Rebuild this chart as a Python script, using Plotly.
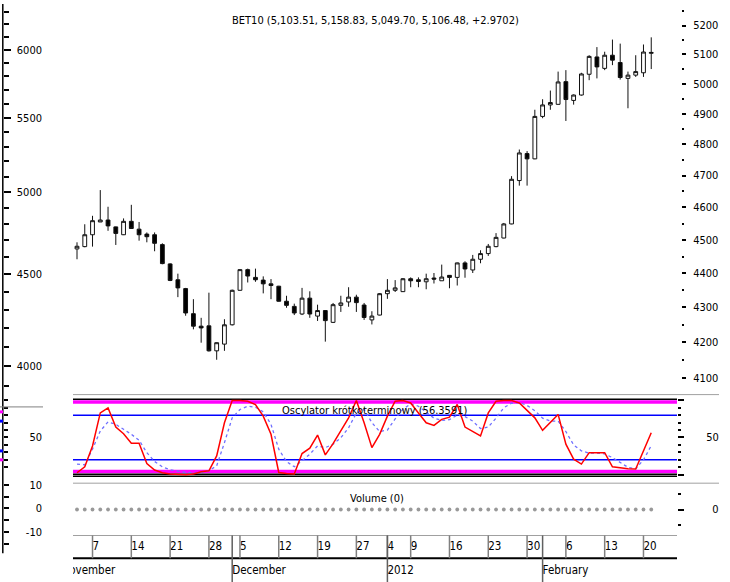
import plotly.graph_objects as go

# ---------------- data ----------------
dates = [
    "2011-11-03", "2011-11-04", "2011-11-07", "2011-11-08", "2011-11-09", "2011-11-10", "2011-11-11",
    "2011-11-14", "2011-11-15", "2011-11-16", "2011-11-17", "2011-11-18", "2011-11-21", "2011-11-22",
    "2011-11-23", "2011-11-24", "2011-11-25", "2011-11-28", "2011-11-29", "2011-11-30", "2011-12-02",
    "2011-12-05", "2011-12-06", "2011-12-07", "2011-12-08", "2011-12-09", "2011-12-12", "2011-12-13",
    "2011-12-14", "2011-12-15", "2011-12-16", "2011-12-19", "2011-12-20", "2011-12-21", "2011-12-22",
    "2011-12-23", "2011-12-27", "2011-12-28", "2011-12-29", "2011-12-30", "2012-01-04", "2012-01-05",
    "2012-01-06", "2012-01-09", "2012-01-10", "2012-01-11", "2012-01-12", "2012-01-13", "2012-01-16",
    "2012-01-17", "2012-01-18", "2012-01-19", "2012-01-20", "2012-01-23", "2012-01-24", "2012-01-25",
    "2012-01-26", "2012-01-27", "2012-01-30", "2012-01-31", "2012-02-01", "2012-02-02", "2012-02-03",
    "2012-02-06", "2012-02-07", "2012-02-08", "2012-02-09", "2012-02-10", "2012-02-13", "2012-02-14",
    "2012-02-15", "2012-02-16", "2012-02-17", "2012-02-20", "2012-02-21",
]

opens = [4473, 4480, 4516, 4555, 4561, 4540, 4516, 4557, 4533, 4518, 4516, 4486, 4428, 4381, 4355,
         4282, 4246, 4247, 4176, 4195, 4250, 4350, 4411, 4388, 4380, 4369, 4362, 4318, 4303, 4281,
         4327, 4275, 4291, 4257, 4306, 4316, 4330, 4307, 4264, 4278, 4340, 4350, 4346, 4384, 4381,
         4375, 4386, 4378, 4394, 4388, 4431, 4410, 4442, 4459, 4480, 4506, 4549, 4684, 4770, 4753,
         4891, 4929, 4931, 5007, 4944, 4962, 5032, 5091, 5052, 5097, 5072, 5018, 5029, 5037, 5103.51]
highs = [4493, 4548, 4574, 4654, 4602, 4541, 4566, 4608, 4555, 4523, 4523, 4490, 4430, 4399, 4357,
         4324, 4270, 4343, 4200, 4266, 4352, 4412, 4414, 4414, 4391, 4383, 4363, 4334, 4311, 4357,
         4347, 4308, 4292, 4313, 4334, 4359, 4337, 4313, 4289, 4342, 4383, 4380, 4386, 4388, 4388,
         4399, 4401, 4426, 4395, 4432, 4436, 4455, 4469, 4488, 4521, 4552, 4698, 4783, 4778, 4913,
         4948, 4977, 5041, 5046, 4964, 5037, 5097, 5125, 5109, 5151, 5137, 5041, 5097, 5134, 5158.83]
lows = [4442, 4478, 4480, 4555, 4528, 4485, 4515, 4534, 4498, 4493, 4466, 4427, 4377, 4330, 4276,
        4237, 4199, 4174, 4151, 4176, 4248, 4349, 4373, 4375, 4341, 4324, 4317, 4299, 4278, 4278,
        4270, 4261, 4202, 4255, 4287, 4302, 4287, 4264, 4251, 4277, 4325, 4345, 4345, 4359, 4359,
        4353, 4370, 4378, 4356, 4364, 4387, 4401, 4430, 4452, 4478, 4505, 4548, 4668, 4668, 4752,
        4885, 4913, 4930, 4876, 4930, 4960, 5012, 5018, 5046, 5063, 5014, 4918, 5023, 5023, 5049.70]
closes = [4481, 4516, 4559, 4561, 4543, 4520, 4557, 4535, 4516, 4510, 4490, 4429, 4379, 4357, 4284,
          4246, 4241, 4176, 4199, 4250, 4350, 4411, 4392, 4381, 4369, 4364, 4318, 4306, 4284, 4327,
          4281, 4291, 4262, 4308, 4313, 4330, 4314, 4271, 4275, 4340, 4350, 4357, 4384, 4378, 4376,
          4384, 4383, 4389, 4388, 4431, 4413, 4442, 4459, 4481, 4508, 4549, 4688, 4772, 4753, 4891,
          4929, 4937, 5006, 4947, 4962, 5033, 5093, 5057, 5097, 5080, 5021, 5029, 5041, 5108, 5106.48]

osc_fast = [2.7, 10.7, 38.7, 83, 89.7, 64, 55, 42.3, 42.3, 15, 6.3, 2.7, 1, 0, 0, 1, 4, 5.3, 25.3,
            69.7, 99.6, 99.6, 98.7, 94.3, 78.7, 54.3, 3, 1.7, 1, 28.4, 35.6, 53.3, 26.7, 41.7, 58.7,
            76.4, 99.6, 69.7, 36.4, 54.3, 78.7, 98.7, 99.6, 96.4, 83, 69.7, 66.3, 74.3, 77.3, 94.3,
            64, 57.7, 52, 83, 98.7, 99.6, 99.6, 96.4, 86.3, 76.4, 59.6, 69.7, 81, 41, 21, 14.3, 29.7,
            29.7, 29.7, 10.7, 9.3, 8, 7.6, 33, 56.36]
osc_slow = [14.3, 13.3, 34.3, 58.7, 71, 67.6, 61, 54.3, 46.3, 29.7, 17.7, 10.7, 6.7, 4.4, 3, 2.7, 3,
            5.3, 12, 43, 76.4, 87.6, 92, 90.7, 84.4, 67.6, 34.3, 17.7, 10.7, 18.7, 27.6, 38.7, 36.4,
            41, 49.7, 63, 83, 87.6, 70, 58, 60, 75, 88, 95, 92, 84, 76, 73, 74, 80, 78, 72, 62, 64,
            76, 90, 96, 97, 93, 86, 76, 72, 72, 58, 40, 32, 29, 29, 28, 23, 16, 10, 8, 20, 39]
volume = [0, 0, 0, 0, 0, 0, 0, 0, 0, 0, 0, 0, 0, 0, 0, 0, 0, 0, 0, 0, 0, 0, 0, 0, 0,
          0, 0, 0, 0, 0, 0, 0, 0, 0, 0, 0, 0, 0, 0, 0, 0, 0, 0, 0, 0, 0, 0, 0, 0, 0,
          0, 0, 0, 0, 0, 0, 0, 0, 0, 0, 0, 0, 0, 0, 0, 0, 0, 0, 0, 0, 0, 0, 0, 0, 0]

day_tick_dates = ["2011-11-07", "2011-11-14", "2011-11-21", "2011-11-28", "2011-12-05", "2011-12-12",
                  "2011-12-19", "2011-12-27", "2012-01-04", "2012-01-09", "2012-01-16", "2012-01-23",
                  "2012-01-30", "2012-02-06", "2012-02-13", "2012-02-20"]
day_tick_labels = ["7", "14", "21", "28", "5", "12", "19", "27", "4", "9", "16", "23", "30", "6", "13", "20"]
month_dates = ["2011-11-01", "2011-12-02", "2012-01-04", "2012-02-01"]
month_labels = ["November", "December", "2012", "February"]
days_before_first = {"2011-11-01": -2}   # Nov 1, Nov 2 trading days before the first candle

main_right_ticks = [4100, 4200, 4300, 4400, 4500, 4600, 4700, 4800, 4900, 5000, 5100, 5200]
main_right_minor = [4150, 4250, 4350, 4450, 4550, 4650, 4750, 4850, 4950, 5050, 5150, 5250]
main_left_ticks = [4000, 4500, 5000, 5500, 6000]
main_left_minor = [3900, 4100, 4200, 4300, 4400, 4600, 4700, 4800, 4900, 5100, 5200, 5300, 5400,
                   5600, 5700, 5800, 5900, 6100, 6200, 6300]
osc_major = [0, 50, 100]
osc_minor = [10, 20, 30, 40, 60, 70, 80, 90]
osc_frame_levels = [101.3, 0.7, -2.0]
osc_outer_levels = [97.6, 4.4]
osc_inner_levels = [80, 20]
vol_left_labels = [10, 0, -10]
vol_left_ticks = [-15, -10, -5, 0, 5, 10]

title_text = "BET10 (5,103.51, 5,158.83, 5,049.70, 5,106.48, +2.9702)"
osc_title = "Oscylator krótkoterminowy (56.3591)"
vol_title = "Volume (0)"

# ---------------- layout helpers ----------------
W, H = 730, 582
def px(x):
    return x / W
def py(y):
    return 1 - y / H

FONT = "Liberation Sans Narrow, Arial Narrow, DejaVu Sans Condensed, sans-serif"
FS = 11
idx = list(range(len(dates)))
tick_idx = [dates.index(d) for d in day_tick_dates]
month_idx = [dates.index(d) if d in dates else days_before_first[d] for d in month_dates]

fig = go.Figure()

# candles
fig.add_trace(go.Candlestick(
    x=idx, open=opens, high=highs, low=lows, close=closes,
    increasing=dict(line=dict(color="#111111", width=1), fillcolor="#ffffff"),
    decreasing=dict(line=dict(color="#111111", width=1), fillcolor="#000000"),
    whiskerwidth=0, showlegend=False, hoverinfo="skip", xaxis="x", yaxis="y"))

# dummy traces for extra axes
for ya in ["y5", "y6"]:
    fig.add_trace(go.Scatter(x=[None], y=[None], xaxis="x", yaxis=ya, showlegend=False, hoverinfo="skip"))

# oscillator
fig.add_trace(go.Scatter(x=idx, y=osc_slow, mode="lines", line=dict(color="#6f6fff", width=1.3, dash="dot"),
                         showlegend=False, hoverinfo="skip", xaxis="x2", yaxis="y2"))
fig.add_trace(go.Scatter(x=idx, y=osc_fast, mode="lines", line=dict(color="#ff0000", width=1.5),
                         showlegend=False, hoverinfo="skip", xaxis="x2", yaxis="y2"))
for ya in ["y7", "y8"]:
    fig.add_trace(go.Scatter(x=[None], y=[None], xaxis="x2", yaxis=ya, showlegend=False, hoverinfo="skip"))

# volume
fig.add_trace(go.Scatter(x=idx, y=volume, mode="markers", marker=dict(color="#999999", size=3.8),
                         showlegend=False, hoverinfo="skip", xaxis="x3", yaxis="y3"))
for ya in ["y9", "y10"]:
    fig.add_trace(go.Scatter(x=[None], y=[None], xaxis="x3", yaxis=ya, showlegend=False, hoverinfo="skip"))

# date strip labels
fig.add_trace(go.Scatter(x=tick_idx, y=[0.745] * len(tick_idx), mode="text", text=day_tick_labels,
                         textposition="middle right", textfont=dict(family=FONT, size=FS + 0.5, color="#000"),
                         cliponaxis=True, showlegend=False, hoverinfo="skip", xaxis="x4", yaxis="y4"))
fig.add_trace(go.Scatter(x=month_idx, y=[0.234] * len(month_idx), mode="text", text=month_labels,
                         textposition="middle right", textfont=dict(family=FONT, size=FS + 0.5, color="#000"),
                         cliponaxis=True, showlegend=False, hoverinfo="skip", xaxis="x4", yaxis="y4"))

XDOM = [px(73), px(677)]
XR = [-0.515, 77.32]
hidden_x = dict(domain=XDOM, range=XR, visible=False, showgrid=False, zeroline=False)
tickfont = dict(family=FONT, size=FS, color="#000")

shapes = []
# oscillator levels
for lv in osc_outer_levels:
    shapes.append(dict(type="line", xref="x2 domain", x0=0, x1=1, yref="y2", y0=lv, y1=lv,
                       line=dict(color="#ff00ff", width=3.5), layer="below"))
for lv in osc_inner_levels:
    shapes.append(dict(type="line", xref="x2 domain", x0=0, x1=1, yref="y2", y0=lv, y1=lv,
                       line=dict(color="#0000ff", width=1.5), layer="below"))
for lv in osc_frame_levels:
    shapes.append(dict(type="line", xref="x2 domain", x0=0, x1=1, yref="y2", y0=lv, y1=lv,
                       line=dict(color="#000000", width=1.5), layer="below"))
# date strip lines
shapes.append(dict(type="line", xref="x4 domain", x0=0, x1=1, yref="y4", y0=1.0, y1=1.0,
                   line=dict(color="#808080", width=1.2)))
shapes.append(dict(type="line", xref="x4 domain", x0=0, x1=1, yref="y4", y0=0.51, y1=0.51,
                   line=dict(color="#000000", width=2)))
for t in tick_idx:
    shapes.append(dict(type="line", xref="x4", x0=t, x1=t, yref="y4", y0=0.51, y1=1.0,
                       line=dict(color="#808080", width=1.5)))
for m in month_idx:
    if m >= 0:
        shapes.append(dict(type="line", xref="x4", x0=m, x1=m, yref="y4", y0=0.0, y1=1.0,
                           line=dict(color="#606060", width=1.5)))
# panel separators and left-edge decorations
for ysep in [393.3, 482.5]:
    shapes.append(dict(type="line", xref="paper", yref="paper", x0=px(73), x1=px(719), y0=py(ysep), y1=py(ysep),
                       line=dict(color="#a0a0a0", width=1)))
shapes.append(dict(type="line", xref="paper", yref="paper", x0=px(2.8), x1=px(2.8), y0=py(0), y1=py(553),
                   line=dict(color="#000000", width=1.5)))
shapes.append(dict(type="line", xref="paper", yref="paper", x0=px(0), x1=px(43), y0=py(405.7), y1=py(405.7),
                   line=dict(color="#808080", width=1)))
for yy, col in [(410.7, "#ff00ff"), (459, "#ff00ff"), (420, "#0000ff"), (450, "#0000ff")]:
    shapes.append(dict(type="rect", xref="paper", yref="paper", x0=px(0), x1=px(3), y0=py(yy + 1.5), y1=py(yy - 1.5),
                       line=dict(width=0), fillcolor=col))

annotations = [
    dict(text=title_text, x=px(375), y=py(17), xref="paper", yref="paper", showarrow=False,
         xanchor="center", yanchor="middle", font=dict(family=FONT, size=FS, color="#000")),
    dict(text=osc_title, x=px(374), y=py(409), xref="paper", yref="paper", showarrow=False,
         xanchor="center", yanchor="middle", font=dict(family=FONT, size=FS, color="#000")),
    dict(text=vol_title, x=px(377), y=py(498), xref="paper", yref="paper", showarrow=False,
         xanchor="center", yanchor="middle", font=dict(family=FONT, size=FS, color="#000")),
]

MAIN_DOM = [py(393.3), 1]
OSC_DOM = [py(482.5), py(393.3)]
VOL_DOM = [py(535), py(482.5)]
STRIP_DOM = [0, py(535)]
MAIN_R = [3.60795, 3.72231]
MAIN_L = [3.58644, 3.80354]
OSC_R = [-11.33, 107.6]
VOL_R = [-0.8125, 0.828]
VOLL_R = [-19.11, 10.76]

def yax(**kw):
    base = dict(showgrid=False, zeroline=False, showline=False, tickfont=tickfont, tickcolor="#000")
    base.update(kw)
    return base

fig.update_layout(
    width=W, height=H, autosize=False,
    margin=dict(l=0, r=0, t=0, b=0, pad=0),
    paper_bgcolor="#ffffff", plot_bgcolor="rgba(0,0,0,0)",
    showlegend=False,
    xaxis=dict(hidden_x, anchor="y", rangeslider=dict(visible=False)),
    xaxis2=dict(hidden_x, anchor="y2", matches="x"),
    xaxis3=dict(hidden_x, anchor="y3", matches="x"),
    xaxis4=dict(hidden_x, anchor="y4", matches="x"),
    yaxis=yax(domain=MAIN_DOM, type="log", range=MAIN_R, side="right", anchor="free", position=px(681),
              tickmode="array", tickvals=main_right_ticks, ticktext=[str(v) for v in main_right_ticks],
              ticks="outside", ticklen=4, tickwidth=2, ticklabelstandoff=5,
              minor=dict(tickmode="array", tickvals=main_right_minor, ticks="outside", ticklen=2, tickwidth=2,
                         tickcolor="#000", showgrid=False)),
    yaxis5=yax(domain=MAIN_DOM, type="log", range=MAIN_L, overlaying="y", side="right", anchor="free",
               position=px(3), tickmode="array", tickvals=main_left_ticks, showticklabels=False,
               ticks="outside", ticklen=7, tickwidth=1.5,
               minor=dict(tickmode="array", tickvals=main_left_minor, ticks="outside", ticklen=5, tickwidth=1.5,
                          tickcolor="#000", showgrid=False)),
    yaxis6=yax(domain=MAIN_DOM, type="log", range=MAIN_L, overlaying="y", side="left", anchor="free",
               position=px(42), tickmode="array", tickvals=main_left_ticks,
               ticktext=[str(v) for v in main_left_ticks], ticks=""),
    yaxis2=yax(domain=OSC_DOM, range=OSC_R, side="right", anchor="free", position=px(677),
               tickmode="array", tickvals=osc_major, ticktext=["", "50", ""],
               ticks="outside", ticklen=6, tickwidth=2, ticklabelstandoff=20,
               minor=dict(tickmode="array", tickvals=osc_minor, ticks="outside", ticklen=3, tickwidth=1.5,
                          tickcolor="#000", showgrid=False)),
    yaxis7=yax(domain=OSC_DOM, range=OSC_R, overlaying="y2", side="right", anchor="free", position=px(3),
               tickmode="array", tickvals=osc_minor + [50, 100], showticklabels=False,
               ticks="outside", ticklen=4, tickwidth=1.5),
    yaxis8=yax(domain=OSC_DOM, range=OSC_R, overlaying="y2", side="left", anchor="free", position=px(42),
               tickmode="array", tickvals=[50], ticktext=["50"], ticks=""),
    yaxis3=yax(domain=VOL_DOM, range=VOL_R, side="right", anchor="free", position=px(677),
               tickmode="array", tickvals=[0], ticktext=["0"],
               ticks="outside", ticklen=6, tickwidth=2, ticklabelstandoff=26,
               minor=dict(tickmode="array", tickvals=[-0.5, 0.5], ticks="outside", ticklen=3, tickwidth=1.5,
                          tickcolor="#000", showgrid=False)),
    yaxis9=yax(domain=[py(553), py(482.5)], range=VOLL_R, side="right", anchor="free", position=px(3),
               tickmode="array", tickvals=vol_left_ticks, showticklabels=False,
               ticks="outside", ticklen=5, tickwidth=1.5),
    yaxis10=yax(domain=[py(553), py(482.5)], range=VOLL_R, overlaying="y9", side="left", anchor="free",
                position=px(42), tickmode="array", tickvals=vol_left_labels,
                ticktext=[str(v) for v in vol_left_labels], ticks=""),
    yaxis4=dict(domain=STRIP_DOM, range=[0, 1], visible=False, anchor="x4"),
    shapes=shapes,
    annotations=annotations,
)

fig.write_html("out.html", config={"displayModeBar": False},
               post_script="document.body.style.margin='0';document.body.style.overflow='hidden';")
